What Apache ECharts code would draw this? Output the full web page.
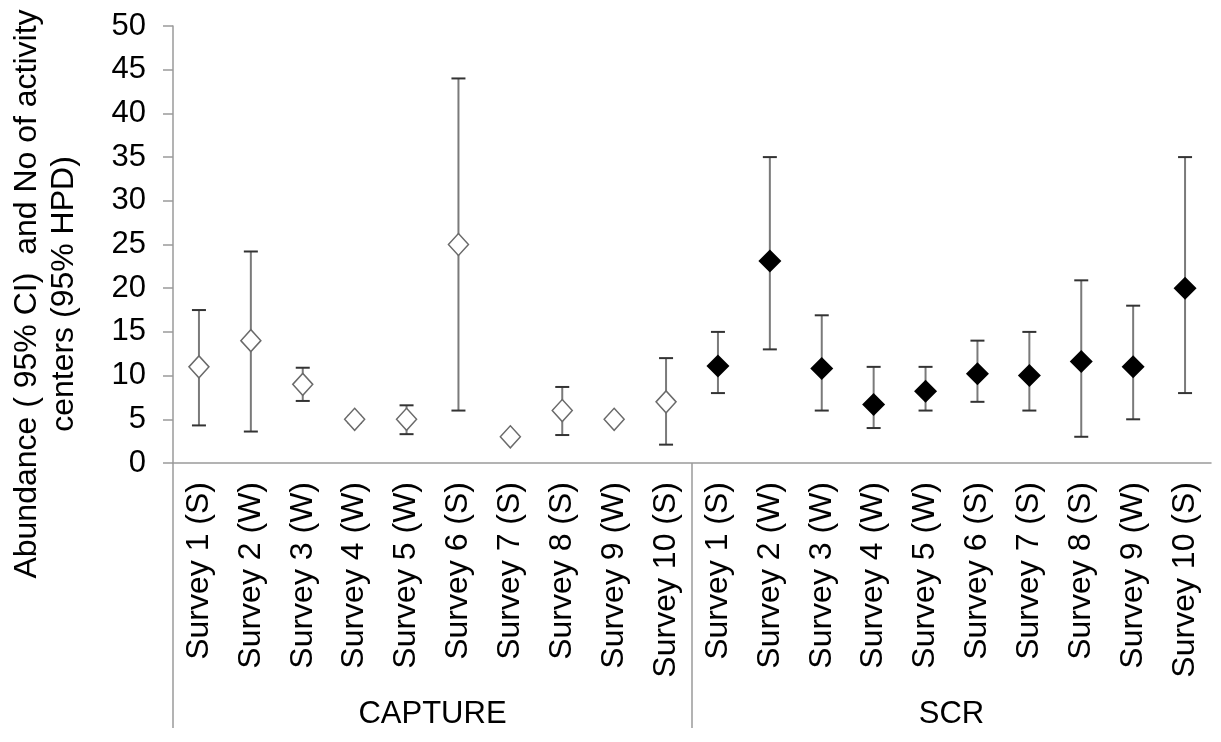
<!DOCTYPE html>
<html>
<head>
<meta charset="utf-8">
<script src="https://cdn.jsdelivr.net/npm/echarts@6/dist/echarts.min.js"></script>
<style>
  html, body { margin: 0; padding: 0; background: #fff; }
  #chart { width: 1221px; height: 742px; }
</style>
</head>
<body>
<div id="chart"></div>
<script>
// Estimation methods (group labels) and survey occasions (category labels)
const groups = ['CAPTURE', 'SCR'];
const surveys = ['Survey 1 (S)', 'Survey 2 (W)', 'Survey 3 (W)', 'Survey 4 (W)', 'Survey 5 (W)',
                 'Survey 6 (S)', 'Survey 7 (S)', 'Survey 8 (S)', 'Survey 9 (W)', 'Survey 10 (S)'];
const yTitle = 'Abundance ( 95% CI)  and No of activity\ncenters (95% HPD)';

// Capture-recapture abundance with 95% CI (null = no interval)
const captureMean = [11, 14, 9, 5, 5, 25, 3, 6, 5, 7];
const captureLow  = [4.3, 3.6, 7.1, 4.6, 3.3, 6, null, 3.2, null, 2.1];
const captureHigh = [17.5, 24.2, 10.9, 5.4, 6.6, 44, null, 8.7, null, 12];

// SCR number of activity centers with 95% HPD
const scrMean = [11.1, 23.1, 10.8, 6.7, 8.2, 10.2, 10, 11.6, 11, 20];
const scrLow  = [8, 13, 6, 4, 6, 7, 6, 3, 5, 8];
const scrHigh = [15, 35, 16.9, 11, 11, 14, 15, 20.9, 18, 35];

const FONT = '"Liberation Sans", Arial, sans-serif';
const AXIS_GREY = '#9a9a9a';

// unique category keys: "group|survey"
const categories = [];
groups.forEach(g => surveys.forEach(s => categories.push(g + '|' + s)));

function points(means, offset) {
  return means.map((v, i) => [i + offset, v]);
}
function intervals(low, high, offset) {
  const out = [];
  low.forEach((lo, i) => {
    if (lo != null && high[i] != null) out.push([i + offset, lo, high[i]]);
  });
  return out;
}
const errorData = intervals(captureLow, captureHigh, 0).concat(intervals(scrLow, scrHigh, surveys.length));

function renderErrorBar(params, api) {
  const x = api.value(0);
  const lo = api.coord([x, api.value(1)]);
  const hi = api.coord([x, api.value(2)]);
  const half = 7;
  return {
    type: 'group',
    children: [
      { type: 'line', shape: { x1: lo[0], y1: lo[1], x2: hi[0], y2: hi[1] },
        style: { stroke: '#7a7a7a', lineWidth: 2 } },
      { type: 'line', shape: { x1: lo[0] - half, y1: lo[1], x2: lo[0] + half, y2: lo[1] },
        style: { stroke: '#333', lineWidth: 2 } },
      { type: 'line', shape: { x1: hi[0] - half, y1: hi[1], x2: hi[0] + half, y2: hi[1] },
        style: { stroke: '#333', lineWidth: 2 } }
    ]
  };
}

const chart = echarts.init(document.getElementById('chart'), null, { renderer: 'canvas' });
chart.setOption({
  animation: false,
  backgroundColor: '#fff',
  textStyle: { fontFamily: FONT },
  grid: [
    { left: 173, right: 10, top: 26, height: 437 },
    { left: 173, right: 10, top: 463, height: 265 }
  ],
  xAxis: [
    {
      type: 'category',
      gridIndex: 0,
      data: categories,
      boundaryGap: true,
      axisLine: { show: true, lineStyle: { color: AXIS_GREY, width: 1.5 } },
      axisTick: { show: false },
      splitLine: { show: false },
      axisLabel: {
        interval: 0,
        rotate: 90,
        margin: 19,
        color: '#000',
        fontSize: 32,
        fontFamily: FONT,
        formatter: v => v.split('|')[1]
      }
    },
    {
      type: 'category',
      gridIndex: 1,
      position: 'top',
      data: groups,
      boundaryGap: true,
      axisLine: { show: false },
      axisTick: { show: false },
      splitLine: {
        show: true,
        interval: 0,
        showMinLine: true,
        showMaxLine: false,
        lineStyle: { color: AXIS_GREY, width: 1.5 }
      },
      axisLabel: {
        inside: true,
        interval: 0,
        margin: 236,
        color: '#000',
        fontSize: 31,
        fontFamily: FONT
      }
    }
  ],
  yAxis: [
    {
      type: 'value',
      gridIndex: 0,
      min: 0,
      max: 50,
      interval: 5,
      axisLine: { show: true, lineStyle: { color: AXIS_GREY, width: 1.5 } },
      axisTick: { show: true, inside: false, length: 10, lineStyle: { color: AXIS_GREY, width: 1.5 } },
      splitLine: { show: false },
      axisLabel: { margin: 27, color: '#000', fontSize: 31, fontFamily: FONT }
    },
    {
      type: 'value',
      gridIndex: 1,
      show: false,
      min: 0,
      max: 1
    }
  ],
  graphic: [
    {
      type: 'text',
      x: 46,
      y: 294,
      rotation: Math.PI / 2,
      style: {
        text: yTitle,
        fontSize: 32,
        fontFamily: FONT,
        fill: '#000',
        lineHeight: 37,
        align: 'center',
        verticalAlign: 'middle',
        textAlign: 'center',
        textVerticalAlign: 'middle'
      }
    }
  ],
  series: [
    {
      name: 'interval',
      type: 'custom',
      xAxisIndex: 0,
      yAxisIndex: 0,
      renderItem: renderErrorBar,
      encode: { x: 0, y: [1, 2] },
      data: errorData,
      z: 2
    },
    {
      name: 'CAPTURE',
      type: 'scatter',
      xAxisIndex: 0,
      yAxisIndex: 0,
      symbol: 'diamond',
      symbolSize: [20, 22],
      itemStyle: { color: '#fff', borderColor: '#6a6a6a', borderWidth: 1.5, opacity: 1 },
      data: points(captureMean, 0),
      z: 3
    },
    {
      name: 'SCR',
      type: 'scatter',
      xAxisIndex: 0,
      yAxisIndex: 0,
      symbol: 'diamond',
      symbolSize: [23, 23],
      itemStyle: { color: '#000', opacity: 1 },
      data: points(scrMean, surveys.length),
      z: 3
    }
  ]
});
</script>
</body>
</html>
